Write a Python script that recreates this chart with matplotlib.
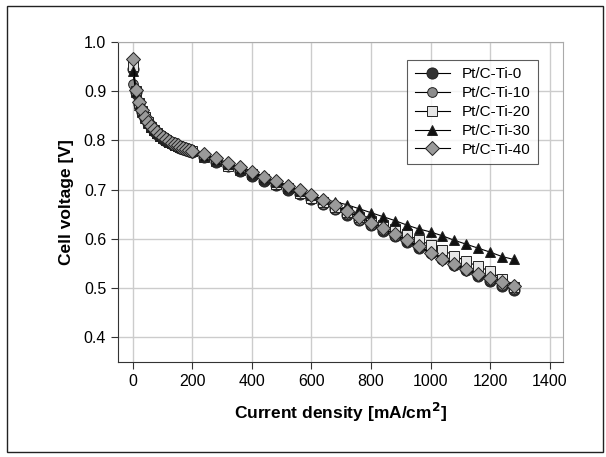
import matplotlib
matplotlib.use("Agg")
import matplotlib.pyplot as plt
from matplotlib.patches import Rectangle

plt.rcParams['font.family'] = ['Liberation Sans', 'DejaVu Sans']

# current density [mA/cm2]
current = [0, 10, 20, 30, 40, 50, 60, 70, 80, 90, 100, 110, 120, 130, 140,
           150, 160, 170, 180, 190, 200,
           240, 280, 320, 360, 400, 440, 480, 520, 560, 600, 640, 680, 720,
           760, 800, 840, 880, 920, 960, 1000, 1040, 1080, 1120, 1160, 1200,
           1240, 1280]

ti0 = [0.945, 0.898, 0.873, 0.857, 0.845, 0.834, 0.826, 0.819, 0.813, 0.808,
       0.803, 0.799, 0.796, 0.793, 0.790, 0.787, 0.785, 0.783, 0.781, 0.779,
       0.777,
       0.765, 0.756, 0.747, 0.737, 0.728, 0.718, 0.709, 0.700, 0.690, 0.680,
       0.670, 0.660, 0.649, 0.638, 0.627, 0.616, 0.605, 0.593, 0.582, 0.571,
       0.559, 0.547, 0.536, 0.525, 0.515, 0.505, 0.496]
ti10 = [0.915, 0.893, 0.870, 0.855, 0.844, 0.834, 0.826, 0.819, 0.814, 0.809,
        0.804, 0.800, 0.797, 0.794, 0.791, 0.788, 0.786, 0.784, 0.782, 0.780,
        0.778,
        0.766, 0.757, 0.748, 0.738, 0.729, 0.719, 0.710, 0.701, 0.691, 0.681,
        0.671, 0.661, 0.650, 0.639, 0.628, 0.617, 0.606, 0.595, 0.584, 0.573,
        0.561, 0.549, 0.538, 0.527, 0.517, 0.507, 0.499]
ti20 = [0.950, 0.900, 0.875, 0.859, 0.847, 0.836, 0.827, 0.820, 0.814, 0.809,
        0.804, 0.800, 0.797, 0.794, 0.791, 0.788, 0.786, 0.784, 0.782, 0.780,
        0.778,
        0.765, 0.757, 0.748, 0.740, 0.731, 0.721, 0.712, 0.703, 0.692, 0.683,
        0.674, 0.665, 0.655, 0.645, 0.636, 0.627, 0.619, 0.609, 0.597, 0.588,
        0.577, 0.566, 0.554, 0.544, 0.534, 0.519, 0.503]
ti30 = [0.940, 0.897, 0.872, 0.857, 0.845, 0.835, 0.827, 0.820, 0.814, 0.809,
        0.804, 0.800, 0.797, 0.794, 0.791, 0.788, 0.786, 0.784, 0.782, 0.780,
        0.778,
        0.768, 0.760, 0.751, 0.742, 0.733, 0.724, 0.715, 0.706, 0.697, 0.688,
        0.680, 0.675, 0.669, 0.661, 0.653, 0.645, 0.637, 0.628, 0.620, 0.614,
        0.606, 0.597, 0.589, 0.581, 0.573, 0.564, 0.558]
ti40 = [0.965, 0.902, 0.877, 0.861, 0.848, 0.838, 0.829, 0.822, 0.816, 0.811,
        0.806, 0.802, 0.798, 0.795, 0.792, 0.790, 0.787, 0.785, 0.783, 0.781,
        0.779,
        0.772, 0.763, 0.754, 0.745, 0.736, 0.726, 0.717, 0.708, 0.698, 0.688,
        0.678, 0.668, 0.656, 0.644, 0.633, 0.621, 0.609, 0.598, 0.585, 0.572,
        0.560, 0.549, 0.538, 0.529, 0.521, 0.513, 0.505]

labels = ['Pt/C-Ti-0', 'Pt/C-Ti-10', 'Pt/C-Ti-20', 'Pt/C-Ti-30', 'Pt/C-Ti-40']
series = [ti0, ti10, ti20, ti30, ti40]
markers = ['o', 'o', 's', '^', 'D']
faces = ['#333333', '#8c8c8c', '#e6e6e6', '#111111', '#9a9a9a']
sizes = [8, 7, 7, 7.5, 7]

fig = plt.figure(figsize=(6.06, 4.57), dpi=100)
ax = fig.add_axes([0.1947, 0.2079, 0.7343, 0.7009])

for y, lab, m, fc, ms in zip(series, labels, markers, faces, sizes):
    ax.plot(current, y, color='black', linewidth=0.8, marker=m,
            markerfacecolor=fc, markeredgecolor='#222222',
            markeredgewidth=0.7, markersize=ms, label=lab)

ax.set_xlim(-50, 1445)
ax.set_ylim(0.35, 1.0)
ax.set_xticks(range(0, 1401, 200))
ax.set_yticks([0.4, 0.5, 0.6, 0.7, 0.8, 0.9, 1.0])
ax.set_yticklabels(['0.4', '0.5', '0.6', '0.7', '0.8', '0.9', '1.0'])
ax.grid(True, color='#cccccc', linewidth=1.0)
ax.set_axisbelow(True)
ax.tick_params(direction='out', length=5, width=0.8, labelsize=11.5,
               color='#333333')
for s in ['top', 'right']:
    ax.spines[s].set_color('#aaaaaa')
for s in ['left', 'bottom']:
    ax.spines[s].set_color('#333333')

ax.set_xlabel('Current density [mA/cm$^\\mathbf{2}$]', fontsize=12.5,
              fontweight='bold', labelpad=9)
ax.set_ylabel('Cell voltage [V]', fontsize=12.5, fontweight='bold',
              labelpad=7)

leg = ax.legend(loc='upper right', bbox_to_anchor=(0.962, 0.968),
                fontsize=11, frameon=True, fancybox=False,
                edgecolor='#333333', handlelength=2.3, borderpad=0.5,
                labelspacing=0.32)
leg.get_frame().set_linewidth(0.8)

fig.patches.append(Rectangle((0.011, 0.011), 0.984, 0.976,
                             transform=fig.transFigure, fill=False,
                             edgecolor='#222222', linewidth=1.0))

fig.savefig('out.png', dpi=100)
